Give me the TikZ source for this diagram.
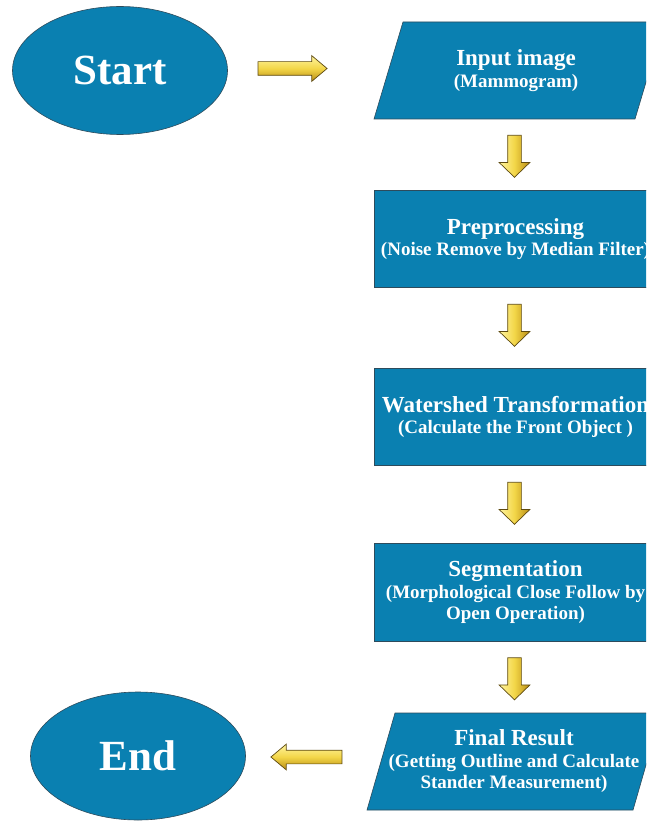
\documentclass[tikz,border=0pt]{standalone}
\usepackage{fontspec}
\setmainfont{Liberation Serif}
\usetikzlibrary{shapes.geometric,shapes.arrows,calc}
\definecolor{boxblue}{HTML}{0A80B1}
\definecolor{boxline}{HTML}{2D4B5C}
\definecolor{goldL}{HTML}{FFF5A0}
\definecolor{goldM}{HTML}{F3D648}
\definecolor{goldD}{HTML}{B88C14}
\definecolor{goldE}{HTML}{5E4A10}
\newcommand{\boxtitle}[1]{{\fontsize{23}{25}\selectfont #1}}
\tikzset{
  term/.style={ellipse, fill=boxblue, draw=boxline, line width=0.6pt, text=white,
    font=\bfseries\fontsize{43}{43}\selectfont, minimum width=215pt, minimum height=128pt, inner sep=0pt},
  procbox/.style={rectangle, fill=boxblue, draw=boxline, line width=0.6pt, text=white,
    minimum width=283pt, minimum height=97.5pt, align=center, inner sep=0pt,
    font=\bfseries\fontsize{19}{21.5}\selectfont},
  iobox/.style={fill=boxblue, draw=boxline, line width=0.6pt},
  iotext/.style={text=white, align=center, inner sep=0pt, font=\bfseries\fontsize{19}{21.5}\selectfont},
  blockarrow/.style={single arrow, draw=goldE, line width=0.7pt, inner xsep=0pt, inner ysep=6.5pt,
    single arrow head extend=6pt, single arrow tip angle=80, minimum height=69pt},
  rarrow/.style={blockarrow, top color=goldL, bottom color=goldD, middle color=goldM},
  larrow/.style={blockarrow, rotate=180, minimum height=71pt, top color=goldL, bottom color=goldD, middle color=goldM},
  darrow/.style={blockarrow, rotate=-90, minimum height=42pt, single arrow head extend=8.5pt,
    single arrow tip angle=92, left color=goldL, right color=goldD, middle color=goldM}
}
\begin{document}
\begin{tikzpicture}[x=1pt,y=-1pt]
\useasboundingbox (0,0) rectangle (646,821);
\clip (0,0) rectangle (646,821);
\fill[white] (0,0) rectangle (646,821);

% terminals
\node[term] (start) at (120,70.5) {Start};
\node[term] (end) at (138,756) {End};

% input parallelogram
\coordinate (inc) at (516,70.5);
\filldraw[iobox] ($(inc)+(-113,-48.5)$) -- ($(inc)+(148,-48.5)$) -- ($(inc)+(119,48.5)$) -- ($(inc)+(-142,48.5)$) -- cycle;
\node[iotext] (input) at (inc) {\boxtitle{Input image}\\[1pt](Mammogram)};

% process boxes
\node[procbox] (pre) at (515.5,239) {\boxtitle{Preprocessing}\\(Noise Remove by Median Filter)};
\node[procbox] (ws) at (515.5,417) {\boxtitle{Watershed Transformation}\\(Calculate the Front Object )};
\node[procbox] (seg) at (515.5,592.5) {\boxtitle{Segmentation}\\(Morphological Close Follow by\\Open Operation)};

% final parallelogram
\coordinate (fic) at (514,761.5);
\filldraw[iobox] ($(fic)+(-119,-48.5)$) -- ($(fic)+(147,-48.5)$) -- ($(fic)+(119,48.5)$) -- ($(fic)+(-147,48.5)$) -- cycle;
\node[iotext] (final) at (fic) {\boxtitle{Final Result}\\(Getting Outline and Calculate\\Stander Measurement)};

% block arrows
\node[rarrow] (a0) at (288.5,68.5) {};
\node[darrow] (a1) at (514.5,153) {};
\node[darrow] (a2) at (514.5,322) {};
\node[darrow] (a3) at (514.5,500) {};
\node[darrow] (a4) at (514.5,675.5) {};
\node[larrow] (a5) at (310.5,757) {};
\end{tikzpicture}
\end{document}
